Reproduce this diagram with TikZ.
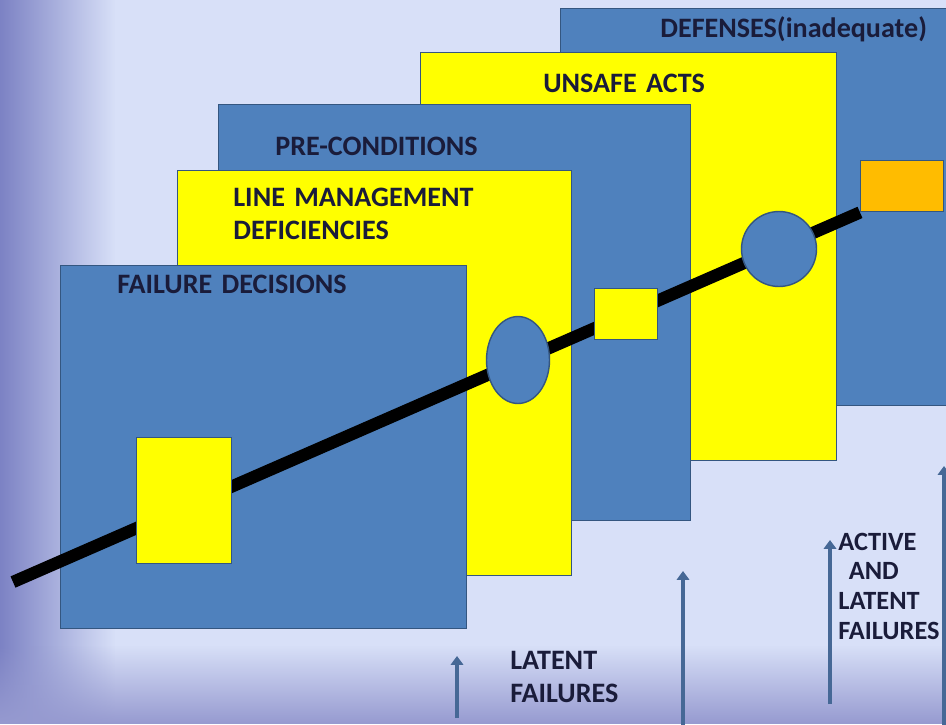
\documentclass[tikz,border=0pt]{standalone}
\usepackage{fontspec}
\setmainfont{Carlito}
\usepackage{xcolor}
\usetikzlibrary{arrows.meta,shapes.geometric,fadings}
\usetikzlibrary{positioning}

\definecolor{bgblue}{RGB}{216,224,248}
\definecolor{bgdark}{RGB}{124,130,196}
\definecolor{bgbottom}{RGB}{150,154,208}
\definecolor{panelblue}{RGB}{79,129,189}
\definecolor{paneledge}{RGB}{52,86,128}
\definecolor{slabyellow}{RGB}{255,255,0}
\definecolor{holeorange}{RGB}{255,188,0}
\definecolor{inkblue}{RGB}{26,28,58}
\definecolor{arrowblue}{RGB}{70,104,150}

\begin{document}
\begin{tikzpicture}[x=0.02cm, y=-0.02cm,
			bluepanel/.style={
					rectangle,
					draw=paneledge,
					line width=0.8pt,
					fill=panelblue,
					anchor=north west,
					inner sep=0pt
				},
			yellowpanel/.style={bluepanel, fill=slabyellow},
			hole/.style={draw=paneledge, line width=0.8pt, inner sep=0pt},
			title/.style={text=inkblue, font=\fontsize{16}{18.8}\selectfont\bfseries, anchor=base west, align=left, text width=6cm, inner sep=0pt},
			trajectory/.style={draw=black, line width=7pt},
			rise/.style={draw=arrowblue, line width=2.6pt, -{Triangle[width=7pt,length=5pt]}}
		]
		% Background
		\useasboundingbox (0,0) rectangle (946,724);
		\clip (0,0) rectangle (946,724);
		\fill[bgblue] (0,0) rectangle (946,724);
		\fill[bgdark, path fading=east] (0,0) rectangle (115,724);
		\fill[bgbottom, path fading=north] (0,645) rectangle (946,724);
		% Slices, back to front
		\node [bluepanel, minimum width=8.2cm, minimum height=7.94cm] (defenses) at (560,8) {};
		\node [yellowpanel, minimum width=8.32cm, minimum height=8.16cm] (unsafe) at (420,52) {};
		\node [bluepanel, minimum width=9.44cm, minimum height=8.32cm] (precond) at (218,104) {};
		\node [yellowpanel, minimum width=7.88cm, minimum height=8.1cm] (linemgmt) at (177,170) {};
		\node [bluepanel, minimum width=8.12cm, minimum height=7.26cm] (decisions) at (60,265) {};
		% Titles
		\node [title] (tdef) at (660,37) {DEFENSES(inadequate)};
		\node [title] (tunsafe) at (543,92) {UNSAFE ACTS};
		\node [title] (tpre) at (275,155) {PRE-CONDITIONS};
		\node [title] (tline) at (233,206) {LINE MANAGEMENT\\DEFICIENCIES};
		\node [title] (tfail) at (117,293) {FAILURE DECISIONS};
		% Accident trajectory
		\coordinate (start) at (13,582);
		\node [hole, fill=holeorange, minimum width=1.66cm, minimum height=1.02cm, anchor=north west] (hole5) at (860,160) {};
		\path [trajectory] (start) -- (hole5.south west);
		\node [hole, fill=slabyellow, minimum width=1.9cm, minimum height=2.52cm, anchor=north west] (hole1) at (136,437) {};
		\node [hole, fill=panelblue, ellipse, minimum width=1.26cm, minimum height=1.74cm] (hole2) at (518,360) {};
		\node [hole, fill=slabyellow, minimum width=1.26cm, minimum height=1.02cm, anchor=north west] (hole3) at (594,288) {};
		\node [hole, fill=panelblue, circle, minimum size=1.5cm] (hole4) at (779,249) {};
		% Failure arrows
		\coordinate (a1) at (457,718);
		\coordinate (a1t) at (457,656);
		\coordinate (a2) at (683,730);
		\coordinate (a2t) at (683,571);
		\coordinate (a3) at (830,704);
		\coordinate (a3t) at (830,540);
		\coordinate (a4) at (944,730);
		\coordinate (a4t) at (944,466);
		\path [rise] (a1) -- (a1t);
		\path [rise] (a2) -- (a2t);
		\path [rise] (a3) -- (a3t);
		\path [rise] (a4) -- (a4t);
		\node [title, text width=4cm] (tlatent) at (510,669) {LATENT\\FAILURES};
		\node [title, text width=4cm, font=\fontsize{15}{17}\selectfont\bfseries] (tactive) at (838,550) {ACTIVE\\\hspace*{0.4em}AND\\LATENT\\FAILURES};
	\end{tikzpicture}
\end{document}
